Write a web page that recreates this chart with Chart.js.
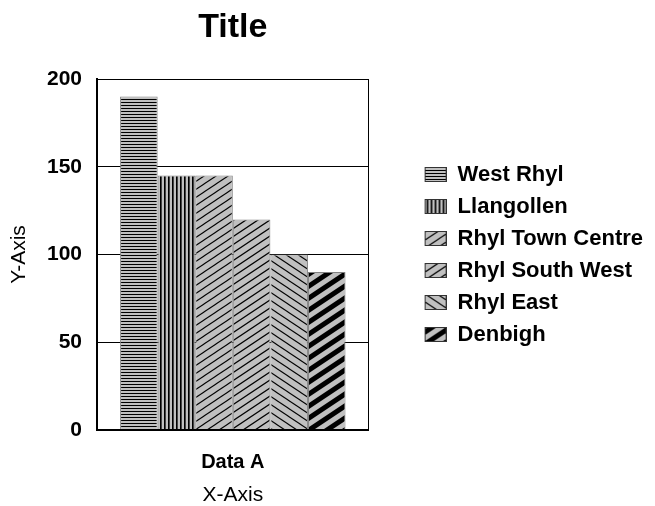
<!DOCTYPE html>
<html>
<head>
<meta charset="utf-8">
<title>Title</title>
<script src="https://cdn.jsdelivr.net/npm/chart.js@4/dist/chart.umd.min.js"></script>
<style>
  body { margin: 0; background: #fff; }
  canvas { display: block; }
</style>
</head>
<body>
<canvas id="chart" width="655" height="506"></canvas>
<script>
// chart data
const chartTitle = 'Title';
const categories = ['Data A'];
const seriesNames = ['West Rhyl', 'Llangollen', 'Rhyl Town Centre', 'Rhyl South West', 'Rhyl East', 'Denbigh'];
const seriesValues = [190, 145, 145, 120, 100, 90];
const yTicks = [0, 50, 100, 150, 200];
const fillKinds = ['hstripe', 'vstripe', 'diag', 'diag2', 'back', 'thick'];

const FONT = '"Liberation Sans", Arial, sans-serif';
const GRAY = '#c0c0c0';

// build a repeating hatch fill like the old Excel patterns
function makePattern(kind, targetCtx) {
  const tile = document.createElement('canvas');
  let w = 12, h = 8;
  if (kind === 'hstripe') { w = 4; h = 3; }
  if (kind === 'vstripe') { w = 4; h = 4; }
  if (kind === 'thick') { w = 18; h = 12; }
  tile.width = w;
  tile.height = h;
  const t = tile.getContext('2d');
  t.fillStyle = GRAY;
  t.fillRect(0, 0, w, h);
  t.fillStyle = '#000';
  t.strokeStyle = '#000';

  if (kind === 'hstripe') {
    t.fillRect(0, 0, w, 1);
  } else if (kind === 'vstripe') {
    t.fillRect(0, 0, 1, h);
    t.fillStyle = '#444';
    t.fillRect(1, 0, 1, h);
  } else {
    t.lineWidth = kind === 'thick' ? 5 : (kind === 'diag2' ? 1.3 : 1.1);
    for (let k = -1; k <= 1; k++) {
      t.beginPath();
      if (kind === 'back') {
        t.moveTo(-w, -h + k * h);
        t.lineTo(2 * w, 2 * h + k * h);
      } else {
        t.moveTo(-w, 2 * h + k * h);
        t.lineTo(2 * w, -h + k * h);
      }
      t.stroke();
    }
  }
  return targetCtx.createPattern(tile, 'repeat');
}

// legend icon: transparent lead-in, then the swatch
function makeLegendIcon(kind) {
  const icon = document.createElement('canvas');
  icon.width = 68;
  icon.height = 15;
  const c = icon.getContext('2d');
  c.fillStyle = makePattern(kind, c);
  c.fillRect(46, 0, 22, 15);
  c.strokeStyle = '#333';
  c.lineWidth = 1;
  c.strokeRect(46.5, 0.5, 21, 14);
  return icon;
}

const ctx = document.getElementById('chart').getContext('2d');
const legendIcons = fillKinds.map(makeLegendIcon);

const datasets = seriesNames.map((name, i) => ({
  label: name,
  data: [seriesValues[i]],
  backgroundColor: makePattern(fillKinds[i], ctx),
  borderColor: '#808080',
  borderWidth: 1,
  barPercentage: 1.0,
  categoryPercentage: 0.83,
}));

// title centred over the plot area, not the whole canvas
const plotTitle = {
  id: 'plotTitle',
  afterDraw(chart) {
    const { ctx, chartArea } = chart;
    ctx.save();
    ctx.font = 'bold 34px ' + FONT;
    ctx.fillStyle = '#000';
    ctx.textAlign = 'center';
    ctx.textBaseline = 'middle';
    ctx.fillText(chartTitle, (chartArea.left + chartArea.right) / 2, 28);
    ctx.restore();
  }
};

new Chart(ctx, {
  type: 'bar',
  data: { labels: categories, datasets: datasets },
  options: {
    responsive: false,
    animation: false,
    layout: { padding: { top: 79, left: 4, right: 2, bottom: 0 } },
    plugins: {
      title: { display: false },
      tooltip: { enabled: false },
      legend: {
        position: 'right',
        fullSize: false,
        maxWidth: 320,
        labels: {
          usePointStyle: true,
          pointStyleWidth: 68,
          padding: 10,
          color: '#000',
          font: { family: FONT, size: 22, weight: 'bold' },
          generateLabels(chart) {
            const items = Chart.defaults.plugins.legend.labels.generateLabels(chart);
            items.forEach((item, i) => { item.pointStyle = legendIcons[i]; });
            return items;
          }
        }
      }
    },
    scales: {
      x: {
        afterFit(scale) { scale.height = 76; },
        grid: { display: true, color: '#000', lineWidth: 1, drawTicks: false, offset: true },
        border: { display: true, color: '#000', width: 2, z: 1 },
        ticks: { color: '#000', padding: 20, font: { family: FONT, size: 20, weight: 'bold' } },
        title: {
          display: true, text: 'X-Axis', color: '#000',
          padding: { top: 4, bottom: -2 },
          font: { family: FONT, size: 21, weight: 'normal' }
        }
      },
      y: {
        min: 0,
        max: 200,
        afterBuildTicks(scale) { scale.ticks = yTicks.map(v => ({ value: v })); },
        afterFit(scale) { scale.width = 93; },
        grid: { color: '#000', lineWidth: 1, drawTicks: false },
        border: { display: true, color: '#000', width: 2, z: 1 },
        ticks: { color: '#000', padding: 15, font: { family: FONT, size: 21, weight: 'bold' } },
        title: {
          display: true, text: 'Y-Axis', color: '#000',
          padding: { top: 3, bottom: 4 },
          font: { family: FONT, size: 21, weight: 'normal' }
        }
      }
    }
  },
  plugins: [plotTitle]
});
</script>
</body>
</html>
